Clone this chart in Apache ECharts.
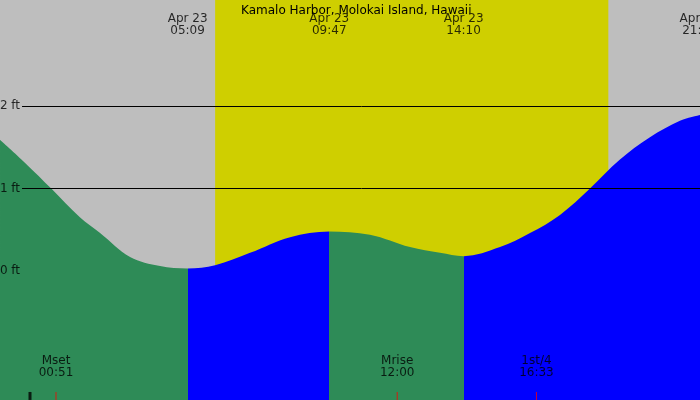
<!DOCTYPE html>
<html><head><meta charset="utf-8">
<script src="https://cdn.jsdelivr.net/npm/echarts@6/dist/echarts.min.js"></script>
<style>html,body{margin:0;padding:0;}#c{width:700px;height:400px;}</style>
</head><body><div id="c"></div>
<script>
const title = 'Kamalo Harbor, Molokai Island, Hawaii';
const tideHours = [-0.98,-0.16,0.72,1.63,2.29,3.27,4.25,5.15,6.05,7.19,8.50,9.78,11.11,12.42,13.40,14.17,15.36,16.34,17.32,18.30,19.28,20.26,21.24,21.9];
const tideFeet  = [1.59,1.31,0.99,0.65,0.46,0.17,0.06,0.03,0.07,0.22,0.41,0.48,0.44,0.29,0.22,0.18,0.29,0.46,0.68,1.00,1.35,1.62,1.82,1.89];
const eventHours = [5.15, 9.78, 14.17, 21.88];
const eventLabels = ['Apr 23\n05:09','Apr 23\n09:47','Apr 23\n14:10','Apr 23\n21:53'];
const moonHours = [0.85, 12.0, 16.55];
const moonLabels = ['Mset\n00:51','Mrise\n12:00','1st/4\n16:33'];
const sunrise = 6.05, sunset = 18.9;
const feetTicks = [0, 1, 2];
const turnHours = [5.15, 9.78, 14.17];

const YMIN = -1.564, YMAX = 3.285;
const green = '#2e8b57', blue = '#0000ff';
const chart = echarts.init(document.getElementById('c'));
const fmtHour = h => { const v = ((h % 12) + 12) % 12; const d = v === 0 ? 12 : v; return String(d).padStart(2,'0'); };
chart.setOption({
  animation: false,
  textStyle: {fontFamily: 'DejaVu Sans', color: '#000'},
  title: {text: title, left: 236, top: 0, textStyle: {fontSize: 12, fontWeight: 'normal', color: '#000', fontFamily: 'DejaVu Sans'}},
  grid: {left: -0.6, right: -3.2, top: 0, bottom: 0, show: true, backgroundColor: '#bebebe', borderWidth: 0,
    containLabel: false, outerBoundsMode: 'none'},
  xAxis: {type: 'value', min: -1, max: 22, interval: 1,
    axisLine: {show: false, onZero: false},
    axisTick: {show: true, inside: true, length: 8, lineStyle: {color: '#000'}},
    axisLabel: {inside: true, margin: 10, fontSize: 12, color: '#000', formatter: v => fmtHour(v)},
    splitLine: {show: false}},
  yAxis: {type: 'value', min: YMIN, max: YMAX, show: false},
  visualMap: {show: false, type: 'piecewise', dimension: 0, seriesIndex: 1,
    pieces: [
      {lt: turnHours[0], color: green},
      {gte: turnHours[0], lt: turnHours[1], color: blue},
      {gte: turnHours[1], lt: turnHours[2], color: green},
      {gte: turnHours[2], color: blue}
    ]},
  series: [
    {type: 'line', data: [], z: 1,
      markArea: {silent: true, itemStyle: {color: '#cfcf00'}, data: [[{xAxis: sunrise}, {xAxis: sunset}]]},
      markLine: {silent: true, symbol: 'none', label: {show: false}, lineStyle: {color: '#000', width: 1, type: 'solid'},
        data: feetTicks.filter(v => v > 0).map(v => [{coord: [-0.26, v]}, {coord: [22, v]}])}},
    {type: 'line', z: 3, smooth: 0.35, symbol: 'none',
      lineStyle: {width: 0}, areaStyle: {opacity: 1, origin: 'start'},
      data: tideHours.map((h, i) => [h, tideFeet[i]])},
    {type: 'scatter', z: 5, symbolSize: 0, silent: true,
      data: feetTicks.map(v => [-0.26, v]),
      label: {show: true, position: 'left', distance: 2, fontSize: 12, color: '#000', formatter: p => p.value[1] + ' ft'}},
    {type: 'scatter', z: 5, symbolSize: 0, silent: true,
      data: eventHours.map((h, i) => ({value: [h, 2.982], name: eventLabels[i]})),
      label: {show: true, position: 'inside', fontSize: 12, lineHeight: 12, color: '#000', formatter: p => p.name}},
    {type: 'scatter', z: 5, symbolSize: 0, silent: true,
      data: moonHours.map((h, i) => ({value: [h, -1.163], name: moonLabels[i]})),
      label: {show: true, position: 'inside', fontSize: 12, lineHeight: 12, color: '#000', formatter: p => p.name}},
    {type: 'scatter', z: 6, symbol: 'rect', symbolSize: [1, 8], silent: true, itemStyle: {color: '#ff0000'},
      data: moonHours.map(h => [h, -1.515])},
    {type: 'scatter', z: 6, symbol: 'rect', symbolSize: [3, 8], silent: true, itemStyle: {color: '#000'},
      data: [[0, -1.515]]}
  ]
});
</script></body></html>
